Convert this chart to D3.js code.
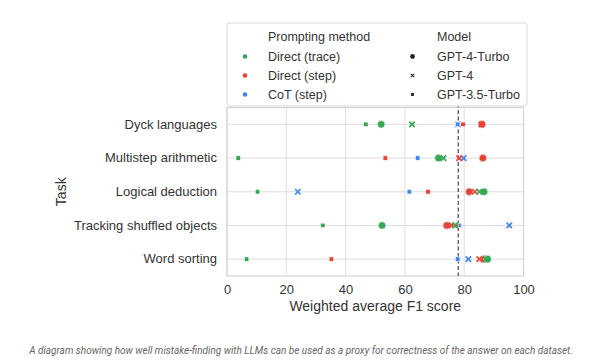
<!DOCTYPE html>
<html><head><meta charset="utf-8">
<script src="https://cdn.jsdelivr.net/npm/d3@7"></script>
<style>
html,body{margin:0;padding:0;background:#fff;}
svg text{font-family:"Liberation Sans",Arial,sans-serif;}
</style></head>
<body><svg id="c" width="594" height="361"></svg>
<script>
const tasks = ["Dyck languages","Multistep arithmetic","Logical deduction","Tracking shuffled objects","Word sorting"];
const methods = ["Direct (trace)","Direct (step)","CoT (step)"];
const models = ["GPT-4-Turbo","GPT-4","GPT-3.5-Turbo"];
const xTicks = [0,20,40,60,80,100];
const threshold = 78;
// values per task (order as tasks)
const traceTurbo = [52.0, 71.3, 86.7, 52.3, 87.9];
const traceGpt4  = [62.4, 73.0, 85.1, 76.9, 87.3];
const trace35    = [46.8, 3.8, 10.3, 32.3, 6.6];
const stepTurbo  = [86.0, 86.3, 81.7, 74.1, 86.8];
const stepGpt4   = [85.8, 78.3, 83.6, 75.8, 85.1];
const step35     = [79.6, 53.4, 67.8, 77.2, 35.2];
const cotTurbo   = [86.0, 86.3, 81.7, 74.1, 86.8];
const cotGpt4    = [77.9, 79.8, 23.9, 95.2, 81.4];
const cot35      = [77.8, 64.3, 61.5, 78.3, 77.8];

const colors = {"Direct (trace)":"#34a853","Direct (step)":"#ea4335","CoT (step)":"#4285f4"};
// drawing order: CoT first (underneath), then step, then trace
const series = [
  [methods[2],models[0],cotTurbo],[methods[2],models[1],cotGpt4],[methods[2],models[2],cot35],
  [methods[1],models[0],stepTurbo],[methods[1],models[1],stepGpt4],[methods[1],models[2],step35],
  [methods[0],models[0],traceTurbo],[methods[0],models[1],traceGpt4],[methods[0],models[2],trace35]
];
const pts = [];
series.forEach(([m,mod,vals])=>vals.forEach((v,i)=>pts.push({method:m,model:mod,task:tasks[i],v})));

const svg = d3.select("#c");
const L=227, R=523.5, T=107.5, B=276;
const x = d3.scaleLinear().domain([0,100]).range([L,R]);
const y = d3.scaleBand().domain(tasks).range([T,B]).padding(0);
const yc = t => y(t)+y.bandwidth()/2;

// grid
svg.append("g").selectAll("line").data(xTicks).join("line")
  .attr("x1",d=>x(d)).attr("x2",d=>x(d)).attr("y1",T).attr("y2",B)
  .attr("stroke","#dedede").attr("stroke-width",1);
svg.append("g").selectAll("line").data(tasks).join("line")
  .attr("x1",L).attr("x2",R).attr("y1",d=>yc(d)).attr("y2",d=>yc(d))
  .attr("stroke","#dedede").attr("stroke-width",1);
svg.append("rect").attr("x",L).attr("y",T).attr("width",R-L).attr("height",B-T)
  .attr("fill","none").attr("stroke","#d4d4d4").attr("stroke-width",1.2);

// axes
const xa = svg.append("g").attr("transform",`translate(0,${B})`).call(d3.axisBottom(x).tickValues(xTicks).tickSize(0).tickPadding(9));
xa.select(".domain").remove();
xa.selectAll("text").attr("font-size",13).attr("fill","#333").style("font-family","'Liberation Sans',Arial,sans-serif");
const ya = svg.append("g").attr("transform",`translate(${L},0)`).call(d3.axisLeft(y).tickSize(0).tickPadding(10));
ya.select(".domain").remove();
ya.selectAll("text").attr("font-size",13).attr("fill","#333").style("font-family","'Liberation Sans',Arial,sans-serif");

svg.append("text").attr("x",(L+R)/2).attr("y",311).attr("text-anchor","middle")
  .attr("font-size",14).attr("fill","#333").text("Weighted average F1 score");
svg.append("text").attr("transform",`translate(66,${(T+B)/2}) rotate(-90)`).attr("text-anchor","middle")
  .attr("font-size",14).attr("fill","#333").text("Task");

// threshold
svg.append("line").attr("x1",x(threshold)).attr("x2",x(threshold)).attr("y1",T-4).attr("y2",B)
  .attr("stroke","#555").attr("stroke-width",1.3).attr("stroke-dasharray","4,2.5");

// markers
function marker(g, model, size){
  if(model==="GPT-4-Turbo"){
    g.append("circle").attr("r",size*0.5);
  } else if(model==="GPT-4"){
    const s=size*0.36;
    g.append("path").attr("d",`M${-s},${-s}L${s},${s}M${-s},${s}L${s},${-s}`).attr("stroke-width",size*0.22).attr("fill","none");
  } else {
    const s=size*0.3;
    g.append("rect").attr("x",-s).attr("y",-s).attr("width",2*s).attr("height",2*s);
  }
}
const pg = svg.append("g");
pts.forEach(p=>{
  const g = pg.append("g").attr("transform",`translate(${x(p.v)},${yc(p.task)})`);
  marker(g,p.model,7.6);
  const c=colors[p.method];
  g.selectAll("circle,rect").attr("fill",c).attr("stroke","#fff").attr("stroke-width",0.6);
  g.selectAll("path").attr("stroke",c);
});

// legend
const lg = svg.append("g");
lg.append("rect").attr("x",227).attr("y",23).attr("width",300).attr("height",83).attr("rx",3)
  .attr("fill","#fff").attr("fill-opacity",0.85).attr("stroke","#d8d8d8");
const fs=12.5;
lg.append("text").attr("x",268).attr("y",41).attr("font-size",fs).attr("fill","#333").text("Prompting method");
lg.append("text").attr("x",437).attr("y",41).attr("font-size",fs).attr("fill","#333").text("Model");
methods.forEach((m,i)=>{
  const yy = 56+i*19;
  lg.append("circle").attr("cx",245).attr("cy",yy+0.5).attr("r",2.3).attr("fill",colors[m]);
  lg.append("text").attr("x",268).attr("y",yy+4.5).attr("font-size",fs).attr("fill","#333").text(m);
});
models.forEach((m,i)=>{
  const yy = 56+i*19;
  const g = lg.append("g").attr("transform",`translate(412.5,${yy+0.5})`);
  marker(g,m,4.8);
  g.selectAll("circle,rect").attr("fill","#222");
  g.selectAll("path").attr("stroke","#222");
  lg.append("text").attr("x",437).attr("y",yy+4.5).attr("font-size",fs).attr("fill","#333").text(m);
});

// caption
svg.append("text").attr("x",301).attr("y",354).attr("text-anchor","middle")
  .attr("font-size",10).attr("font-style","italic").attr("fill","#666")
  .style("font-family","Roboto,'Liberation Sans',sans-serif")
  .text("A diagram showing how well mistake-finding with LLMs can be used as a proxy for correctness of the answer on each dataset.");
</script></body></html>
